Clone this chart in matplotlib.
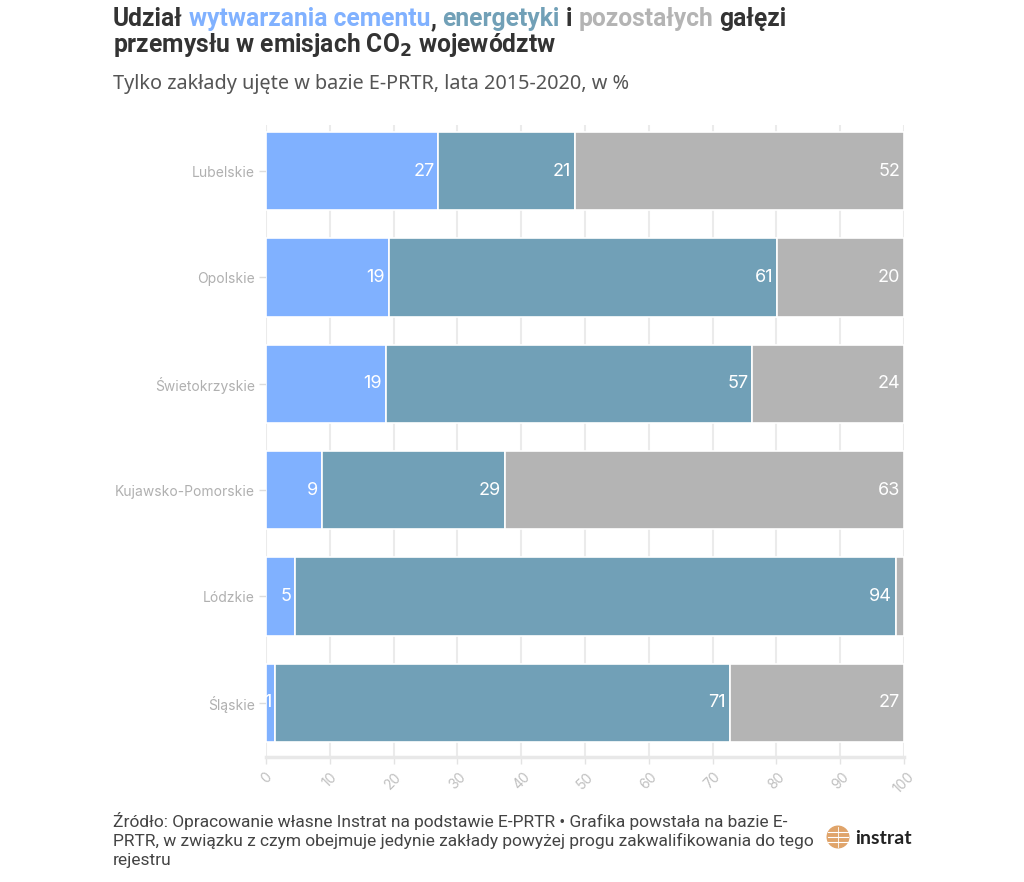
import matplotlib
matplotlib.use("Agg")
import matplotlib.pyplot as plt
from matplotlib.patches import Circle
import numpy as np

regions = ["Lubelskie", "Opolskie", "Świetokrzyskie", "Kujawsko-Pomorskie", "Lódzkie", "Śląskie"]
cement = [27.0, 19.3, 18.8, 8.8, 4.6, 1.4]
energy = [21.4, 60.8, 57.4, 28.6, 94.1, 71.3]
other = [51.6, 19.9, 23.8, 62.6, 1.3, 27.3]
xticks = [0, 10, 20, 30, 40, 50, 60, 70, 80, 90, 100]

C_CEM = "#80b1ff"
C_ENE = "#71a0b7"
C_OTH = "#b4b4b4"
C_TXT = "#333333"

W, H = 1024, 882
fig = plt.figure(figsize=(W / 100, H / 100), dpi=100)
fig.patch.set_facecolor("white")

ax = fig.add_axes([266 / W, 1 - 757 / H, 638 / W, (757 - 125) / H])
y = np.arange(len(regions))
left = np.zeros(len(regions))
for vals, col in [(cement, C_CEM), (energy, C_ENE), (other, C_OTH)]:
    vals = np.array(vals)
    ax.barh(y, vals, left=left, height=0.735, color=col, edgecolor="white", linewidth=1.2, zorder=3)
    for yi, (l, v) in enumerate(zip(left, vals)):
        if v >= 1.4:
            ax.text(l + v - 0.6, yi, f"{round(v):d}", ha="right", va="center", color="white",
                    fontsize=13, family="Inter", zorder=4)
    left = left + vals

ax.set_xlim(0, 100)
ax.set_ylim(5.51, -0.434)
ax.set_yticks(y)
ax.set_yticklabels(regions, fontsize=10, color="#b0b0b0", family="Inter")
ax.set_xticks(xticks)
ax.set_xticklabels([str(t) for t in xticks], rotation=45, ha="center", va="top",
                   fontsize=10, color="#c0c0c0", family="Inter")
ax.tick_params(axis="y", length=5, color="#dddddd", width=1, pad=3)
ax.tick_params(axis="x", length=5, color="#e3e3e3", width=1, pad=4)
ax.grid(axis="x", color="#ebebeb", linewidth=1.5, zorder=0)
for s in ["top", "right", "left"]:
    ax.spines[s].set_visible(False)
ax.spines["bottom"].set_color("#e8e8e8")
ax.spines["bottom"].set_linewidth(2.5)
ax.set_facecolor("white")

# Title with colored words, placed piece by piece on one baseline
renderer = fig.canvas.get_renderer()
tfs = 17.7
tkw = dict(fontsize=tfs, fontweight="bold", family="Roboto", va="baseline", ha="left")
parts = [("Udział", C_TXT), (" ", C_TXT), ("wytwarzania cementu", C_CEM), (",", C_TXT), (" ", C_TXT),
         ("energetyki", C_ENE), (" ", C_TXT), ("i", C_TXT), (" ", C_TXT), ("pozostałych", C_OTH),
         (" ", C_TXT), ("gałęzi", C_TXT)]
a = fig.text(0, 0, "a a", **tkw)
b = fig.text(0, 0, "aa", **tkw)
space_w = a.get_window_extent(renderer).width - b.get_window_extent(renderer).width
a.remove()
b.remove()
xpix = 113
ybase = 1 - 26 / H
for txt, col in parts:
    if txt == " ":
        xpix += space_w
        continue
    t = fig.text(xpix / W, ybase, txt, color=col, **tkw)
    xpix += t.get_window_extent(renderer).width
fig.text(113 / W, 1 - 52 / H, "przemysłu w emisjach CO$_\\mathbf{2}$ województw", color=C_TXT, **tkw)

fig.text(113 / W, 1 - 89 / H, "Tylko zakłady ujęte w bazie E-PRTR, lata 2015-2020, w %",
         fontsize=14.3, color="#555555", family="Noto Sans")

cap = ("Źródło: Opracowanie własne Instrat na podstawie E-PRTR • Grafika powstała na bazie E-\n"
       "PRTR, w związku z czym obejmuje jedynie zakłady powyżej progu zakwalifikowania do tego\n"
       "rejestru")
fig.text(113 / W, 1 - 812 / H, cap, fontsize=12.5, color="#444444", family="Roboto",
         va="top", linespacing=1.26)

# logo
lax = fig.add_axes([826 / W, 1 - 849 / H, 24 / W, 24 / H])
lax.set_xlim(-1, 1)
lax.set_ylim(-1, 1)
lax.set_aspect("equal")
lax.axis("off")
lax.add_patch(Circle((0, 0), 0.9, color="#e0a46a"))
for yy in [-0.45, 0, 0.45]:
    lax.plot([-0.8, 0.8], [yy, yy], color="white", lw=0.8)
lax.plot([0, 0], [-0.85, 0.85], color="white", lw=0.6)
fig.text(855 / W, 1 - 838 / H, "instrat", fontsize=14, fontweight="bold", family="Lato",
         color="#222222", va="center")

fig.savefig("out.png", dpi=100, facecolor="white")
